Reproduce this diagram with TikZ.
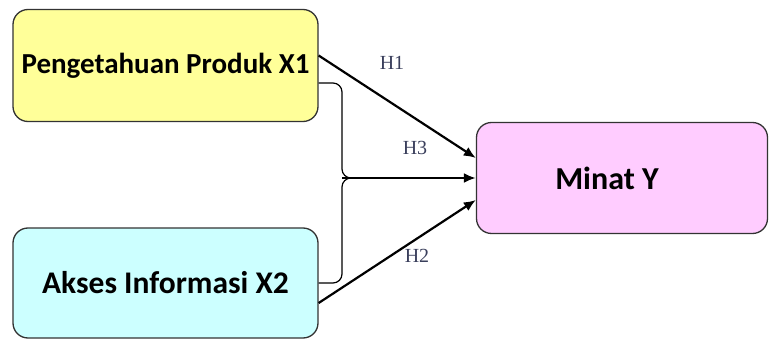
\documentclass[tikz,border=0pt]{standalone}
\usepackage{fontspec}
\setmainfont{Carlito}
\newfontfamily\labelfont{Liberation Serif}
\usetikzlibrary{arrows.meta,positioning}
\definecolor{boxyellow}{HTML}{FFFF99}
\definecolor{boxcyan}{HTML}{CCFFFF}
\definecolor{boxpink}{HTML}{FFCCFF}
\definecolor{labelblue}{HTML}{3A3F5C}
\tikzset
{
	varbox/.style = {rectangle, rounded corners=15pt, draw=black!80, line width=1.3pt, align=center, inner sep=0pt, minimum width=305pt, minimum height=112pt, font=\bfseries\fontsize{31.5}{36}\selectfont},
	arrowline/.style = {line width=2.2pt, -{Latex[length=12pt,width=10pt]}},
	bracket/.style = {line width=1.2pt, rounded corners=9pt},
	hlabel/.style = {font=\labelfont\fontsize{20}{24}\selectfont, text=labelblue}
}

\begin{document}
\begin{tikzpicture}[x=1pt,y=-1pt]
\useasboundingbox (0,0) rectangle (769,340);
\node[varbox, fill=boxyellow, font=\bfseries\fontsize{29}{33}\selectfont] (produk) at (165.5,65.5) {Pengetahuan Produk X1};
\node[varbox, fill=boxcyan, minimum height=110pt] (akses) at (165.5,283) {Akses Informasi X2};
\node[varbox, fill=boxpink, minimum width=291pt, minimum height=111pt, font=\bfseries\fontsize{32}{36}\selectfont] (minat) at (622,178) {Minat Y\hspace*{30pt}};
\coordinate (join) at (342,178);
% direct effects
\draw[arrowline] ([yshift=10pt]produk.east) -- ([yshift=20pt]minat.west);
\draw[arrowline] ([yshift=-20pt]akses.east) -- ([yshift=-22pt]minat.west);
% joint effect
\draw[bracket] ([yshift=-17.5pt]produk.east) -| (join) -- ++(14,0);
\draw[bracket] (akses.east) -| (join) -- ++(14,0);
\draw[arrowline] (join) -- (minat.west);
\node[hlabel] (h1) at (392,63) {H1};
\node[hlabel] (h3) at (415,148) {H3};
\node[hlabel] (h2) at (417,256) {H2};
\end{tikzpicture}
\end{document}
